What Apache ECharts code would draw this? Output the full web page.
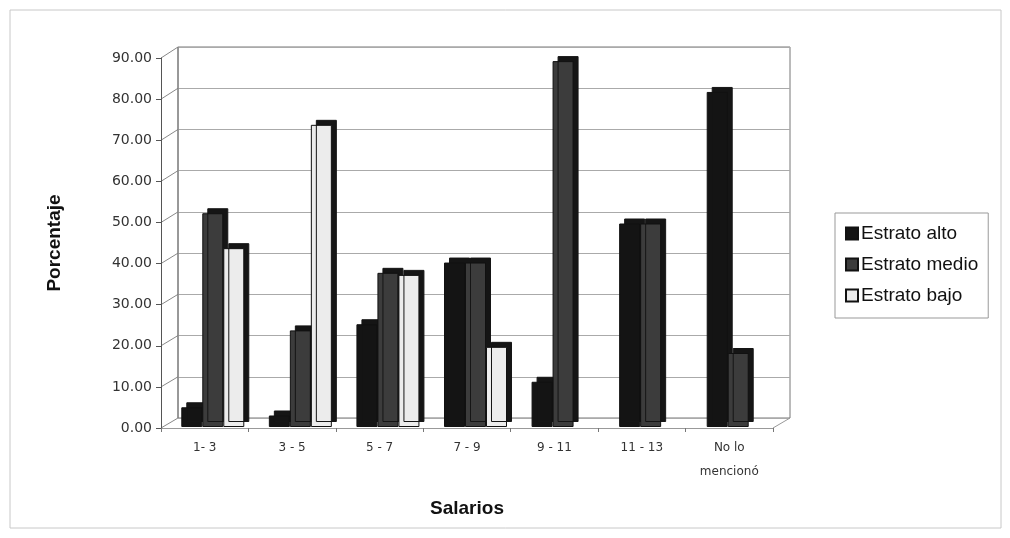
<!DOCTYPE html>
<html>
<head>
<meta charset="utf-8">
<script src="https://cdn.jsdelivr.net/npm/echarts@6/dist/echarts.min.js"></script>
<style>
  html, body { margin: 0; padding: 0; background: #fff; }
  #chart { width: 1010px; height: 538px; }
</style>
</head>
<body>
<div id="chart"></div>
<script>
// salary ranges (front floor labels)
const categories = ['1- 3', '3 - 5', '5 - 7', '7 - 9', '9 - 11', '11 - 13', 'No lo\nmencionó'];
// percentages
const estratoAlto = [4.8, 2.8, 25, 40, 11, 49.5, 81.5];
const estratoMedio = [52, 23.5, 37.5, 40, 89, 49.5, 18];
const estratoBajo = [43.5, 73.5, 37, 19.5, 0, 0, 0];
const yTicks = [0, 10, 20, 30, 40, 50, 60, 70, 80, 90];

const font = '"Liberation Sans", Arial, sans-serif';
const tickFont = '"DejaVu Sans", sans-serif';

const chart = echarts.init(document.getElementById('chart'), null, { renderer: 'canvas' });

// fake 3D depth with a hard shadow up-right
const barStyle = (color) => ({
  color,
  borderColor: '#111',
  borderWidth: 1,
  shadowColor: '#151515',
  shadowBlur: 0,
  shadowOffsetX: 5,
  shadowOffsetY: -5,
});

// zero bars are only a faint mark on the floor
const flatZero = (v) => (v === 0
  ? { value: 0, itemStyle: { borderWidth: 0, shadowColor: 'transparent' } }
  : v);

const makeSeries = (name, data, color) => ({
  name,
  type: 'bar',
  xAxisIndex: 1,
  yAxisIndex: 1,
  data: data.map(flatZero),
  barWidth: 21,
  barGap: '0%',
  itemStyle: barStyle(color),
});

chart.setOption({
  animation: false,
  backgroundColor: '#fff',
  textStyle: { fontFamily: font },
  grid: [
    // back wall with gridlines
    { left: 178, top: 47, width: 612, height: 371, show: true, borderColor: '#777', borderWidth: 1 },
    // bars (middle depth)
    { left: 169, top: 57, width: 613, height: 370 },
    // front edges with labels
    { left: 161, top: 58, width: 612, height: 370 },
  ],
  xAxis: [
    { gridIndex: 0, type: 'category', data: categories, show: false },
    { gridIndex: 1, type: 'category', data: categories, show: false },
    {
      gridIndex: 2,
      type: 'category',
      data: categories,
      axisLine: { show: true, lineStyle: { color: '#999', width: 1 } },
      axisTick: { show: true, length: 4, lineStyle: { color: '#777' } },
      axisLabel: { color: '#333', fontSize: 12, margin: 8, lineHeight: 24, fontFamily: tickFont, interval: 0 },
      name: 'Salarios',
      nameLocation: 'middle',
      nameGap: 71,
      nameTextStyle: { fontSize: 19, fontWeight: 'bold', color: '#111', fontFamily: font },
    },
  ],
  yAxis: [
    {
      gridIndex: 0,
      type: 'value',
      min: 0,
      max: 90,
      interval: 10,
      axisLine: { show: false },
      axisTick: { show: false },
      axisLabel: { show: false },
      splitLine: { show: true, lineStyle: { color: '#aaa', width: 1 } },
    },
    { gridIndex: 1, type: 'value', min: 0, max: 90, show: false },
    {
      gridIndex: 2,
      type: 'value',
      min: 0,
      max: 90,
      interval: 10,
      axisLine: { show: true, lineStyle: { color: '#555' } },
      axisTick: { show: true, length: 5, lineStyle: { color: '#555' } },
      splitLine: { show: false },
      axisLabel: {
        color: '#333',
        fontSize: 14,
        margin: 9,
        fontFamily: tickFont,
        formatter: (v) => (yTicks.includes(v) ? v.toFixed(2) : ''),
      },
      name: 'Porcentaje',
      nameLocation: 'middle',
      nameGap: 97,
      nameRotate: 90,
      nameTextStyle: { fontSize: 19, fontWeight: 'bold', color: '#111', fontFamily: font },
    },
  ],
  legend: {
    orient: 'vertical',
    left: 835,
    top: 213,
    padding: [11, 10, 13, 10],
    itemGap: 12,
    itemWidth: 12,
    itemHeight: 12,
    icon: 'rect',
    borderColor: '#999',
    borderWidth: 1,
    itemStyle: { shadowBlur: 0, shadowColor: 'transparent', shadowOffsetX: 0, shadowOffsetY: 0 },
    textStyle: { fontSize: 19, color: '#111', fontFamily: font, padding: [0, 0, 0, -2] },
    data: ['Estrato alto', 'Estrato medio', 'Estrato bajo'],
  },
  series: [
    makeSeries('Estrato alto', estratoAlto, '#141414'),
    makeSeries('Estrato medio', estratoMedio, '#3c3c3c'),
    makeSeries('Estrato bajo', estratoBajo, '#ececec'),
  ],
});

// side wall / floor edges joining front axis to back wall
const edgeLines = yTicks.map((v) => {
  const yf = chart.convertToPixel({ yAxisIndex: 2 }, v);
  const yb = chart.convertToPixel({ yAxisIndex: 0 }, v);
  return {
    type: 'line',
    silent: true,
    shape: { x1: 161, y1: yf, x2: 178, y2: yb },
    style: { stroke: '#888', lineWidth: 1 },
  };
});
const yFront0 = chart.convertToPixel({ yAxisIndex: 2 }, 0);
const yBack0 = chart.convertToPixel({ yAxisIndex: 0 }, 0);
edgeLines.push({
  type: 'line',
  silent: true,
  shape: { x1: 773, y1: yFront0, x2: 790, y2: yBack0 },
  style: { stroke: '#999', lineWidth: 1 },
});
edgeLines.push({
  type: 'line',
  silent: true,
  shape: { x1: 178, y1: yBack0, x2: 178, y2: chart.convertToPixel({ yAxisIndex: 0 }, 90) },
  style: { stroke: '#777', lineWidth: 1 },
});

chart.setOption({
  graphic: [
    {
      type: 'rect',
      silent: true,
      shape: { x: 10, y: 10, width: 991, height: 518 },
      style: { fill: 'none', stroke: '#c8c8c8', lineWidth: 1 },
    },
    ...edgeLines,
  ],
});
</script>
</body>
</html>
